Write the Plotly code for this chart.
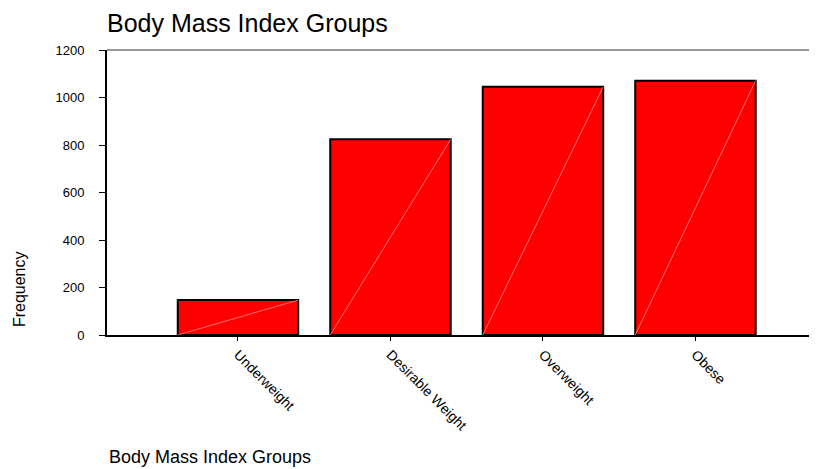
import plotly.graph_objects as go

# Données
categories = ["Underweight", "Desirable Weight", "Overweight", "Obese"]
frequencies = [147, 824, 1045, 1071]
y_ticks = [0, 200, 400, 600, 800, 1000, 1200]

BAR_WIDTH = 0.79
FONT = "Liberation Sans, Arial, sans-serif"

positions = list(range(len(categories)))

fig = go.Figure()

fig.add_trace(go.Bar(
    x=positions,
    y=frequencies,
    width=BAR_WIDTH,
    marker=dict(color="#ff0000", line=dict(color="black", width=2)),
    showlegend=False,
    hoverinfo="skip",
))

# Fine diagonale claire dans chaque barre (artefact du rendu d'origine)
for pos, val in zip(positions, frequencies):
    fig.add_trace(go.Scatter(
        x=[pos - BAR_WIDTH / 2, pos + BAR_WIDTH / 2],
        y=[0, val],
        mode="lines",
        line=dict(color="rgba(255,140,140,0.8)", width=1),
        showlegend=False,
        hoverinfo="skip",
    ))

# La page ajoute une marge de 8 px autour du graphique
fig.update_layout(
    width=817,
    height=469,
    margin=dict(l=99, r=8, t=42, b=142),
    paper_bgcolor="white",
    plot_bgcolor="white",
    font=dict(family=FONT, color="black"),
    title=dict(
        text="Body Mass Index Groups",
        font=dict(size=25, family=FONT, color="black"),
        xref="paper", x=0, xanchor="left",
        yref="container", y=0.968, yanchor="middle",
    ),
    xaxis=dict(
        range=[-0.859, 3.797],
        tickvals=positions,
        ticktext=categories,
        tickangle=45,
        ticks="outside",
        ticklen=4,
        tickcolor="black",
        showline=True,
        linecolor="black",
        linewidth=2,
        showgrid=False,
        zeroline=False,
        tickfont=dict(size=14, family=FONT),
    ),
    yaxis=dict(
        range=[0, 1200],
        tickvals=y_ticks,
        ticks="outside",
        ticklen=6,
        tickcolor="black",
        showline=True,
        linecolor="black",
        linewidth=2,
        showgrid=False,
        zeroline=False,
        tickfont=dict(size=13, family=FONT),
        ticklabelstandoff=12,
    ),
    shapes=[
        dict(type="line", xref="paper", yref="paper", x0=0, x1=1, y0=1, y1=1,
             line=dict(color="#333333", width=1)),
    ],
    annotations=[
        dict(text="Frequency", xref="paper", yref="paper", x=-0.124, y=0.161,
             xanchor="center", yanchor="middle", textangle=-90, showarrow=False,
             font=dict(size=16, family=FONT)),
        dict(text="Body Mass Index Groups", xref="paper", yref="paper", x=0, y=-0.428,
             xanchor="left", yanchor="middle", showarrow=False,
             font=dict(size=18, family=FONT)),
    ],
)

fig.write_html("out.html")
